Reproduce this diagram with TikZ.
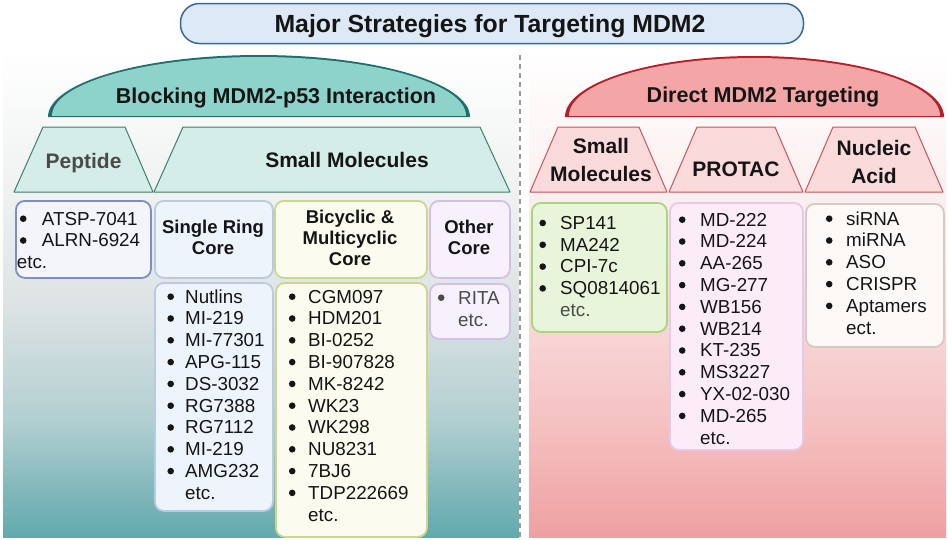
\documentclass[tikz,border=0pt]{standalone}
\usepackage{fontspec}
\setmainfont{Liberation Sans}
\definecolor{ink}{HTML}{151515}
\definecolor{grayink}{HTML}{4a4a4a}
\definecolor{titlefill}{HTML}{DDE9F7}
\definecolor{titleline}{HTML}{3B6996}
\definecolor{domeLfill}{HTML}{8ED3CA}
\definecolor{domeLline}{HTML}{1F6D6C}
\definecolor{domeRfill}{HTML}{F4A5A6}
\definecolor{domeRline}{HTML}{B2202B}
\definecolor{trapLfill}{HTML}{D4EDE8}
\definecolor{trapLline}{HTML}{3C7F6F}
\definecolor{trapRfill}{HTML}{FADADA}
\definecolor{trapRline}{HTML}{C65560}
\definecolor{pepline}{HTML}{7F8EC0}\definecolor{pepfill}{HTML}{F3F5FB}
\definecolor{singline}{HTML}{B9CAE3}\definecolor{singfill}{HTML}{EEF4FB}
\definecolor{bicline}{HTML}{CAD88F}\definecolor{bicfill}{HTML}{FBFCEF}
\definecolor{othline}{HTML}{D3BFEA}\definecolor{othfill}{HTML}{F6F1FD}
\definecolor{rsmline}{HTML}{A8D67C}\definecolor{rsmfill}{HTML}{E9F5DA}
\definecolor{protline}{HTML}{E6C8EA}\definecolor{protfill}{HTML}{FCECF8}
\definecolor{nucline}{HTML}{D9C9C3}\definecolor{nucfill}{HTML}{FDF9F6}
\definecolor{dashgray}{HTML}{9A9A9A}
\definecolor{tB}{HTML}{62A9AD}
\definecolor{tM}{HTML}{B2CFD1}
\definecolor{gM}{HTML}{DDE3E4}
\definecolor{gL}{HTML}{EFF1F1}
\definecolor{rB}{HTML}{EFA0A1}
\definecolor{rM}{HTML}{F5C2C2}
\definecolor{rL}{HTML}{F9DCDC}
\definecolor{rW}{HTML}{FCEFEF}
\pgfdeclareverticalshading{leftbg}{100bp}{color(0bp)=(tB); color(25bp)=(tB); color(37bp)=(tM); color(49bp)=(gM); color(60bp)=(gL); color(75bp)=(white); color(100bp)=(white)}
\pgfdeclareverticalshading{rightbg}{100bp}{color(0bp)=(rB); color(25bp)=(rB); color(37bp)=(rM); color(49bp)=(rL); color(60bp)=(rW); color(75bp)=(white); color(100bp)=(white)}
\newlength{\bw}
\newcommand{\bu}{\makebox[\bw][l]{\tikz[baseline=0pt]{\path[fill] (3.3pt,6.3pt) circle[radius=3.3pt];}}}
\newcommand{\blst}[2]{\setlength{\bw}{#1}\begin{tabular}[t]{@{}l@{}l@{}}#2\end{tabular}}
\newcommand{\ctrlines}[1]{\begin{tabular}[t]{@{}c@{}}#1\end{tabular}}
\begin{document}
\begin{tikzpicture}[x=1pt,y=-1pt,
  hbox/.style={draw, rounded corners=9pt, line width=1.8pt, inner sep=0pt, anchor=north west},
  lst/.style={anchor=base west, inner sep=0pt, font=\fontsize{18.8}{21.8}\selectfont, text=ink},
  hdr/.style={anchor=base, inner sep=0pt, font=\bfseries\fontsize{18.5}{21}\selectfont, text=ink},
  thdr/.style={anchor=base, inner sep=0pt, font=\bfseries\fontsize{21}{25}\selectfont, text=ink},
  trapL/.style={fill=trapLfill, draw=trapLline, line width=1pt, line join=round},
  trapR/.style={fill=trapRfill, draw=trapRline, line width=1pt, line join=round},
  dtext/.style={anchor=base, inner sep=0pt, font=\bfseries\fontsize{21.5}{25}\selectfont, text=ink}]
\useasboundingbox (0,0) rectangle (948,539);
\fill[white] (0,0) rectangle (948,539);
% panels
\path[shading=leftbg] (3,50) rectangle (519,537);
\path[shading=rightbg] (529,50) rectangle (946,537);
\coordinate (dtop) at (520,55);
\coordinate (dbot) at (520,537);
\draw[dashgray, line width=1.5pt, dash pattern=on 5pt off 4pt] (dtop) -- (dbot);
% title
\node[draw=titleline, fill=titlefill, line width=1.5pt, rounded corners=19pt, minimum width=623pt, minimum height=40pt, inner sep=0pt] (title) at (492,23.5) {};
\node[anchor=base, inner sep=0pt, font=\bfseries\fontsize{24.8}{28}\selectfont, text=ink] (titletext) at (490,32) {Major Strategies for Targeting MDM2};
% left dome
\fill[domeLline] (48,117) .. controls (48,82.8) and (142.5,55) .. (259,55) .. controls (375.5,55) and (470,82.8) .. (470,117) -- cycle;
\fill[domeLfill] (52,115.8) .. controls (52,83.3) and (144.7,57) .. (259,57) .. controls (373.3,57) and (466,83.3) .. (466,115.8) -- cycle;
\node[dtext] (domeL) at (276,103) {Blocking MDM2-p53 Interaction};
% right dome
\fill[domeRline] (565,117) .. controls (565,83.3) and (649.8,56) .. (754.5,56) .. controls (859.2,56) and (944,83.3) .. (944,117) -- cycle;
\fill[domeRfill] (569,115.8) .. controls (569,83.9) and (652.1,58) .. (754.5,58) .. controls (856.9,58) and (940,83.9) .. (940,115.8) -- cycle;
\node[dtext] (domeR) at (763,102.5) {Direct MDM2 Targeting};
% trapezoids
\draw[trapL] (14,192) -- (43,127) -- (125,127) -- (153,192) -- cycle;
\draw[trapL] (154,192) -- (183,127) -- (480,127) -- (510,192) -- cycle;
\draw[trapR] (530,192) -- (558,127) -- (639,127) -- (667,192) -- cycle;
\draw[trapR] (669,192) -- (697,127) -- (775,127) -- (803,192) -- cycle;
\draw[trapR] (805,192) -- (833,127) -- (915,127) -- (943,192) -- cycle;
\node[thdr, text=grayink] (tpep) at (83.5,168) {Peptide};
\node[thdr] (tlsm) at (347,167) {Small Molecules};
\node[thdr] (trsm) at (601,153) {\ctrlines{Small\\[3pt]Molecules}};
\node[thdr] (tprot) at (736,176) {PROTAC};
\node[thdr] (tnuc) at (874,155) {\ctrlines{Nucleic\\[3pt]Acid}};
% header boxes
\node[hbox, draw=pepline, fill=pepfill, minimum width=135pt, minimum height=77pt] (pephead) at (15,200) {};
\node[hbox, draw=singline, fill=singfill, minimum width=118pt, minimum height=77pt] (singhead) at (154,200) {};
\node[hbox, draw=bicline, fill=bicfill, minimum width=152pt, minimum height=77pt] (bichead) at (274,200) {};
\node[hbox, draw=othline, fill=othfill, minimum width=80pt, minimum height=77pt] (othhead) at (429,200) {};
% list boxes
\node[hbox, draw=singline, fill=singfill, minimum width=118pt, minimum height=228pt] (singlist) at (154,282) {};
\node[hbox, draw=bicline, fill=bicfill, minimum width=151pt, minimum height=254pt] (biclist) at (275,282) {};
\node[hbox, draw=othline, fill=othfill, minimum width=80pt, minimum height=55pt] (othlist) at (429,283) {};
\node[hbox, draw=rsmline, fill=rsmfill, minimum width=135pt, minimum height=129pt] (rsmlist) at (531,202) {};
\node[hbox, draw=protline, fill=protfill, minimum width=133pt, minimum height=247pt] (protlist) at (669,202) {};
\node[hbox, draw=nucline, fill=nucfill, minimum width=138pt, minimum height=143pt] (nuclist) at (805,203) {};
% header texts
\node[hdr] (singtxt) at (213,233.5) {\ctrlines{Single Ring\\Core}};
\node[hdr] (bictxt) at (350,223) {\ctrlines{Bicyclic \&\\Multicyclic\\Core}};
\node[hdr] (othtxt) at (469,233.5) {\ctrlines{Other\\Core}};
% list texts
\node[lst] (peptxt) at (19.7,225) {\blst{22pt}{\bu & ATSP-7041\\ \bu & ALRN-6924\\ \multicolumn{2}{@{}l@{}}{\hspace{-3pt}etc.}}};
\node[lst] (singitems) at (167.2,303) {\blst{17.8pt}{\bu & Nutlins\\ \bu & MI-219\\ \bu & MI-77301\\ \bu & APG-115\\ \bu & DS-3032\\ \bu & RG7388\\ \bu & RG7112\\ \bu & MI-219\\ \bu & AMG232\\ & etc.}};
\node[lst] (bicitems) at (288.7,303) {\blst{19.3pt}{\bu & CGM097\\ \bu & HDM201\\ \bu & BI-0252\\ \bu & BI-907828\\ \bu & MK-8242\\ \bu & WK23\\ \bu & WK298\\ \bu & NU8231\\ \bu & 7BJ6\\ \bu & TDP222669\\ & etc.}};
\node[lst, text=grayink, font=\fontsize{18.8}{22.5}\selectfont] (othitems) at (437.7,304) {\blst{20.3pt}{\bu & RITA\\ & etc.}};
\node[lst] (rsmitems) at (539.2,229.3) {\blst{20.8pt}{\bu & SP141\\ \bu & MA242\\ \bu & CPI-7c\\ \bu & SQ0814061\\ & \textcolor{grayink}{etc.}}};
\node[lst] (protitems) at (678.7,226) {\blst{21.3pt}{\bu & MD-222\\ \bu & MD-224\\ \bu & AA-265\\ \bu & MG-277\\ \bu & WB156\\ \bu & WB214\\ \bu & KT-235\\ \bu & MS3227\\ \bu & YX-02-030\\ \bu & MD-265\\ & etc.}};
\node[lst] (nucitems) at (825.7,225) {\blst{20.3pt}{\bu & siRNA\\ \bu & miRNA\\ \bu & ASO\\ \bu & CRISPR\\ \bu & Aptamers\\ & ect.}};
\end{tikzpicture}
\end{document}
